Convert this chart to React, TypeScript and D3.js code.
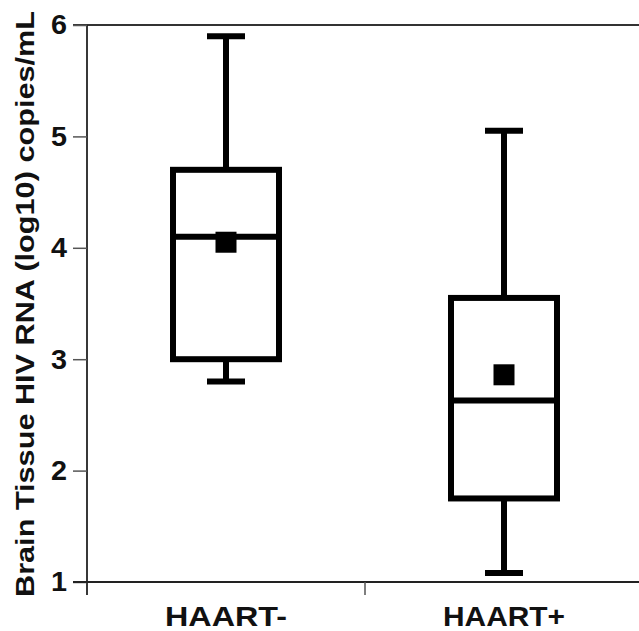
import { useRef, useEffect } from 'react';
import * as d3 from 'd3';

const groups = ['HAART-', 'HAART+'];
const whiskerLow = [2.8, 1.08];
const q1 = [3.0, 1.75];
const median = [4.1, 2.63];
const q3 = [4.7, 3.55];
const whiskerHigh = [5.9, 5.05];
const means = [4.05, 2.86];
const yTicks = [1, 2, 3, 4, 5, 6];

export default function App() {
  const svgRef = useRef<SVGSVGElement>(null);

  useEffect(() => {
    const svg = d3.select(svgRef.current);
    svg.selectAll('*').remove();

    const W = 639, H = 631;
    svg.attr('width', W).attr('height', H);

    const x = d3.scaleBand().domain(groups).range([87, 643]).padding(0);
    const y = d3.scaleLinear().domain([1, 6]).range([582, 25]);
    const font = 'Liberation Sans, Arial, sans-serif';

    // top frame line
    svg.append('line')
      .attr('x1', 73).attr('x2', W)
      .attr('y1', y(6)).attr('y2', y(6))
      .attr('stroke', '#333').attr('stroke-width', 2);

    // y axis
    const yAxis = svg.append('g').attr('transform', 'translate(87,0)')
      .call(d3.axisLeft(y).tickValues(yTicks).tickSize(14).tickPadding(6).tickFormat(d3.format('d')));
    yAxis.select('.domain').attr('stroke', '#222').attr('stroke-width', 1.8)
      .attr('d', `M0,${y(6)}V${y(1) + 13}`);
    yAxis.selectAll('.tick line').attr('stroke', '#555').attr('stroke-width', 1.5);
    yAxis.selectAll('text').style('font-family', font).style('font-size', '28px')
      .style('font-weight', 'bold').attr('fill', '#111')
      .attr('textLength', 16).attr('lengthAdjust', 'spacingAndGlyphs');

    // x axis
    const xAxis = svg.append('g').attr('transform', `translate(0,${y(1)})`);
    xAxis.append('line').attr('x1', 73).attr('x2', W).attr('y1', 0).attr('y2', 0)
      .attr('stroke', '#222').attr('stroke-width', 2);
    xAxis.selectAll('line.tk').data(groups.slice(1)).enter().append('line')
      .attr('class', 'tk')
      .attr('x1', d => x(d)!).attr('x2', d => x(d)!)
      .attr('y1', 0).attr('y2', 13)
      .attr('stroke', '#555').attr('stroke-width', 1.5);
    xAxis.selectAll('text').data(groups).enter().append('text')
      .attr('x', d => x(d)! + x.bandwidth() / 2)
      .attr('y', 44)
      .attr('text-anchor', 'middle')
      .style('font-family', font).style('font-size', '28px').style('font-weight', 'bold')
      .attr('fill', '#111')
      .attr('textLength', 122).attr('lengthAdjust', 'spacingAndGlyphs')
      .text(d => d);

    // y title
    svg.append('text')
      .attr('transform', `translate(34,304) rotate(-90)`)
      .attr('text-anchor', 'middle')
      .style('font-family', font).style('font-size', '26px').style('font-weight', 'bold')
      .attr('fill', '#111')
      .attr('textLength', 586).attr('lengthAdjust', 'spacingAndGlyphs')
      .text('Brain Tissue HIV RNA (log10) copies/mL');

    const boxW = 106, capW = 38, sw = 6, sq = 21;

    groups.forEach((g, i) => {
      const cx = x(g)! + x.bandwidth() / 2;
      const gg = svg.append('g').attr('stroke', '#000').attr('stroke-width', sw).attr('fill', 'none');
      // whiskers
      gg.append('line').attr('x1', cx).attr('x2', cx).attr('y1', y(q3[i])).attr('y2', y(whiskerHigh[i]));
      gg.append('line').attr('x1', cx).attr('x2', cx).attr('y1', y(q1[i])).attr('y2', y(whiskerLow[i]));
      gg.append('line').attr('x1', cx - capW / 2).attr('x2', cx + capW / 2)
        .attr('y1', y(whiskerHigh[i])).attr('y2', y(whiskerHigh[i]));
      gg.append('line').attr('x1', cx - capW / 2).attr('x2', cx + capW / 2)
        .attr('y1', y(whiskerLow[i])).attr('y2', y(whiskerLow[i]));
      // box
      gg.append('rect').attr('x', cx - boxW / 2).attr('width', boxW)
        .attr('y', y(q3[i])).attr('height', y(q1[i]) - y(q3[i]));
      // median
      gg.append('line').attr('x1', cx - boxW / 2).attr('x2', cx + boxW / 2)
        .attr('y1', y(median[i])).attr('y2', y(median[i]));
      // mean
      svg.append('rect').attr('x', cx - sq / 2).attr('y', y(means[i]) - sq / 2)
        .attr('width', sq).attr('height', sq).attr('fill', '#000');
    });
  }, []);

  return <svg ref={svgRef} style={{ position: 'absolute', left: 0, top: 0 }}></svg>;
}
